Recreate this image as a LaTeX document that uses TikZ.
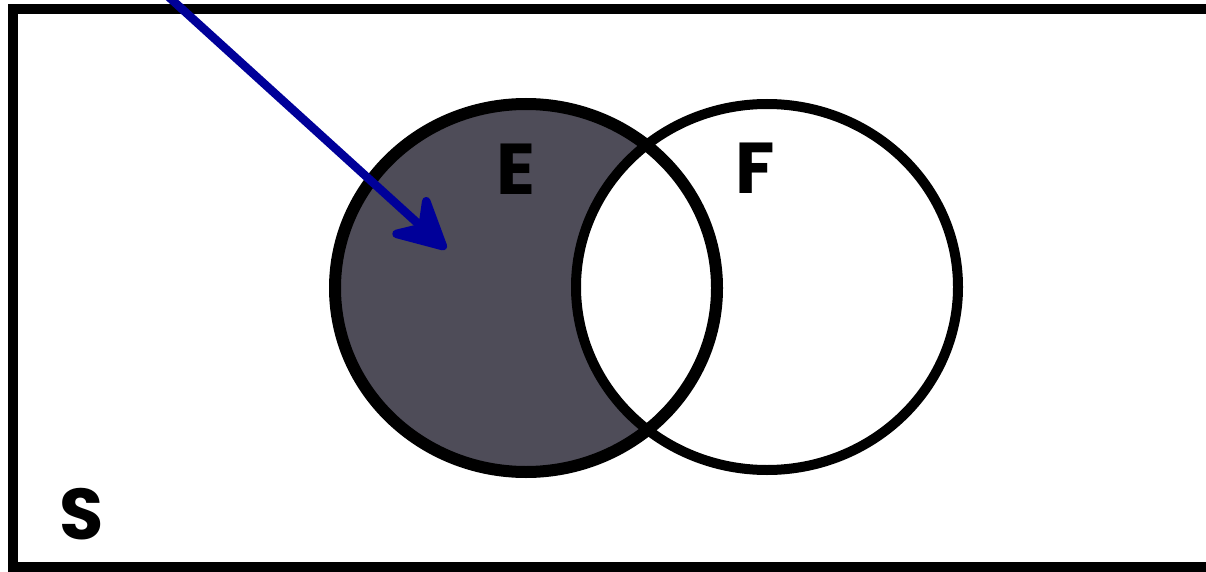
\documentclass[tikz,border=0pt]{standalone}
\usepackage{fontspec}
\setmainfont{Poppins}
\usetikzlibrary{arrows.meta}
\definecolor{eshade}{RGB}{78,76,88}
\definecolor{arrowblue}{RGB}{0,0,153}
\tikzset{
  setlabel/.style={inner sep=0pt, font=\fontsize{72}{72}\selectfont\bfseries, text=black},
  setline/.style={draw=black, line width=10pt},
  pointer/.style={draw=arrowblue, line width=8.5pt,
    -{Stealth[length=64pt,width=66pt,inset=22pt,round]}}
}
\begin{document}
\begin{tikzpicture}[x=1pt,y=-1pt]
\useasboundingbox (0,0) rectangle (1206,572);
\begin{scope}
\clip (0,0) rectangle (1206,572);
\draw[line width=10pt] (13,9) rectangle (1220,567);
\coordinate (ce) at (526,288);
\coordinate (cf) at (767,287);
\fill[eshade] (ce) ellipse [x radius=191, y radius=184];
\fill[white] (cf) ellipse [x radius=191, y radius=183];
\draw[setline, line width=12pt] (ce) ellipse [x radius=191, y radius=184];
\draw[setline] (cf) ellipse [x radius=191, y radius=183];
\coordinate (start) at (160,-11);
\coordinate (tip) at (446,249);
\draw[pointer] (start) -- (tip);
\end{scope}
\node[setlabel] (E) at (516,169) {E};
\node[setlabel] (F) at (755,168) {F};
\node[setlabel] (S) at (82,514) {S};
\end{tikzpicture}
\end{document}
